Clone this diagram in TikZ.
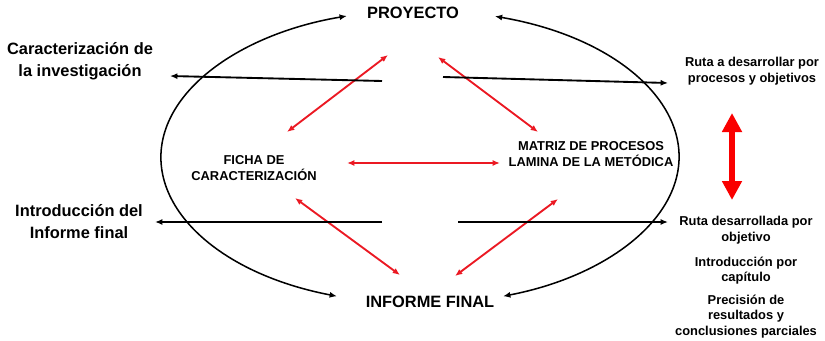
\documentclass[tikz,border=0pt]{standalone}
\usepackage{fontspec}
\setmainfont{Liberation Sans}
\usetikzlibrary{arrows.meta,positioning}
\definecolor{linkred}{RGB}{235,25,35}
\definecolor{bigred}{RGB}{250,0,0}

\begin{document}
\begin{tikzpicture}[x=0.03cm,y=-0.03cm,node distance=0.3cm]
  \tikzstyle{mainlabel}=[font=\bfseries\fontsize{14}{17}\selectfont,inner sep=1pt]
  \tikzstyle{sidelabel}=[align=center,font=\bfseries\fontsize{14}{18.8}\selectfont,inner sep=1pt]
  \tikzstyle{centertext}=[align=center,font=\bfseries\fontsize{11}{13.5}\selectfont,inner sep=1pt]
  \tikzstyle{routetext}=[align=center,font=\bfseries\fontsize{11}{13.4}\selectfont,inner sep=1pt]
  \tikzstyle{redlink}=[{Latex[length=2.2mm,width=1.8mm]}-{Latex[length=2.2mm,width=1.8mm]},linkred,line width=1.6pt]
  \tikzstyle{sidearrow}=[-{Latex[length=2.2mm,width=1.8mm]},line width=1.6pt]
  \tikzstyle{ringarrow}=[{Latex[length=2.2mm,width=1.8mm]}-{Latex[length=2.2mm,width=1.8mm]},line width=1.3pt]
  \useasboundingbox (0,0) rectangle (825,340);

  \node[mainlabel] (proy) at (413,13) {PROYECTO};
  \node[mainlabel] (inf) at (430,302) {INFORME FINAL};
  \node[sidelabel] (carac) at (80,61) {Caracterización de\\la investigación};
  \node[sidelabel] (intro) at (79,222) {Introducción del\\Informe final};
  \node[centertext] (ficha) at (254,168) {FICHA DE\\CARACTERIZACIÓN};
  \node[centertext] (matriz) at (591,154) {MATRIZ DE PROCESOS\\LAMINA DE LA METÓDICA};
  \node[routetext] (ruta) at (752,71) {Ruta a desarrollar por\\procesos y objetivos};
  \node[routetext] (rutad) at (746,230) {Ruta desarrollada por\\objetivo};
  \node[routetext,below=of rutad] (icap) {Introducción por\\capítulo};
  \node[routetext,below=0.22cm of icap] (prec) {Precisión de\\resultados y\\conclusiones parciales};

  % ellipse, open at top and bottom
  \draw[ringarrow] (420,157) ++(108.7:259 and 147) arc[start angle=108.7,end angle=253.6,x radius=259,y radius=147];
  \draw[ringarrow] (420,157) ++(-73.2:259 and 147) arc[start angle=-73.2,end angle=71.3,x radius=259,y radius=147];

  % ends of the connectors
  \coordinate (pf) at (388,55);
  \coordinate (fp) at (287,132);
  \coordinate (pm) at (438,57);
  \coordinate (mp) at (538,132);
  \coordinate (fm) at (347,163);
  \coordinate (mf) at (500,163);
  \coordinate (fi) at (295,198);
  \coordinate (if) at (400,275);
  \coordinate (mi) at (558,199);
  \coordinate (im) at (455,276);
  \coordinate (cl) at (382,81);
  \coordinate (cr) at (443,77);
  \coordinate (il) at (382,222);
  \coordinate (ir) at (458,222);
  \coordinate (ct) at (170,76);
  \coordinate (rt) at (668,83);
  \coordinate (it) at (155,222);
  \coordinate (rdt) at (668,222);
  \coordinate (up) at (732,113);
  \coordinate (down) at (732,200);

  \draw[redlink] (pf) -- (fp);
  \draw[redlink] (pm) -- (mp);
  \draw[redlink] (fm) -- (mf);
  \draw[redlink] (fi) -- (if);
  \draw[redlink] (mi) -- (im);

  \draw[sidearrow] (cl) -- (ct);
  \draw[sidearrow] (cr) -- (rt);
  \draw[sidearrow] (il) -- (it);
  \draw[sidearrow] (ir) -- (rdt);

  \draw[{Triangle[length=5.7mm,width=5.7mm]}-{Triangle[length=5.7mm,width=5.7mm]},bigred,line width=0.18cm] (up) -- (down);
\end{tikzpicture}
\end{document}
